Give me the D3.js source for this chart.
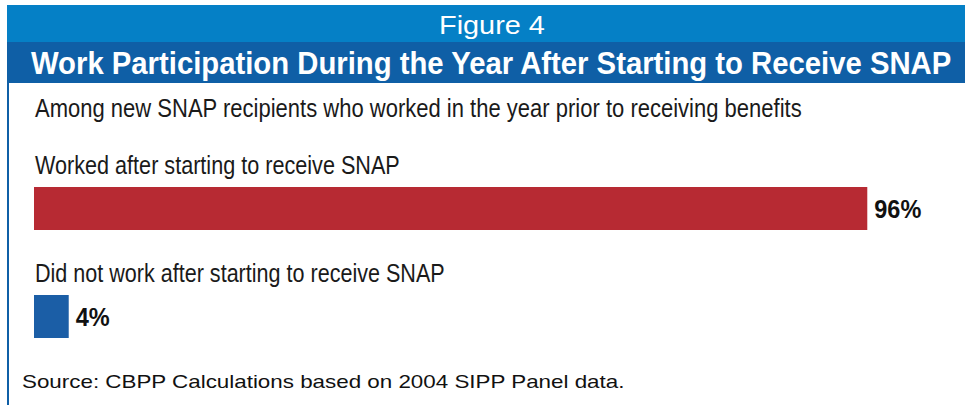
<!DOCTYPE html>
<html>
<head>
<meta charset="utf-8">
<script src="https://cdn.jsdelivr.net/npm/d3@7"></script>
<style>
  body { margin: 0; background: #fff; }
  svg { display: block; }
</style>
</head>
<body>
<svg width="965" height="405"></svg>
<script>
const figureLabel = 'Figure 4';
const title = 'Work Participation During the Year After Starting to Receive SNAP';
const subtitle = 'Among new SNAP recipients who worked in the year prior to receiving benefits';
const source = 'Source: CBPP Calculations based on 2004 SIPP Panel data.';

const categories = [
    'Worked after starting to receive SNAP',
    'Did not work after starting to receive SNAP'
];
const values = [96, 4];

const colors = ['#b72a33', '#1b5ea6'];

const svg = d3.select('svg');
svg.selectAll('*').remove();

const width = 965;
const height = 405;
const barHeight = 43;

// squeeze a text horizontally so it spans w pixels (the reference uses a condensed face)
function fitText(sel, x, y, w, anchor) {
    sel.each(function(d, i) {
        const node = d3.select(this);
        const tw = typeof w === 'function' ? w(d, i) : w;
        const tx = typeof x === 'function' ? x(d, i) : x;
        const ty = typeof y === 'function' ? y(d, i) : y;
        const natural = this.getComputedTextLength();
        const k = tw / natural;
        const left = anchor === 'middle' ? tx - tw / 2 : tx;
        node.attr('x', 0).attr('y', 0)
            .attr('text-anchor', 'start')
            .attr('transform', `translate(${left}, ${ty}) scale(${k}, 1)`);
    });
}

// header bands
svg.append('rect')
    .attr('x', 7).attr('y', 5)
    .attr('width', width - 7).attr('height', 37)
    .attr('fill', '#0580c6');

svg.append('rect')
    .attr('x', 7).attr('y', 42)
    .attr('width', width - 7).attr('height', 41)
    .attr('fill', '#0f5fa6');

// left frame line
svg.append('rect')
    .attr('x', 7).attr('y', 83)
    .attr('width', 2).attr('height', height - 83)
    .attr('fill', '#0f5fa6');

svg.append('text')
    .attr('font-family', 'Liberation Sans, Arial, sans-serif')
    .attr('font-size', 26)
    .attr('fill', '#fff')
    .text(figureLabel)
    .call(fitText, 492, 34, 106, 'middle');

svg.append('text')
    .attr('font-family', 'Liberation Sans, Arial, sans-serif')
    .attr('font-weight', 'bold')
    .attr('font-size', 32)
    .attr('fill', '#fff')
    .text(title)
    .call(fitText, 31, 74, 921);

svg.append('text')
    .attr('font-family', 'Liberation Sans, Arial, sans-serif')
    .attr('font-size', 25)
    .attr('fill', '#1a1a1a')
    .text(subtitle)
    .call(fitText, 35, 117, 767);

const xScale = d3.scaleLinear()
    .domain([0, 100])
    .range([34, 902]);

const yScale = d3.scalePoint()
    .domain(categories)
    .range([187, 295]);

const labelWidths = [365, 410];
const valueWidths = [47, 34];

const rows = svg.append('g')
    .selectAll('g')
    .data(categories)
    .join('g');

rows.append('text')
    .attr('font-family', 'Liberation Sans, Arial, sans-serif')
    .attr('font-size', 25)
    .attr('fill', '#1a1a1a')
    .text(d => d)
    .call(fitText, 35, d => yScale(d) - 13, (d, i) => labelWidths[i]);

rows.append('rect')
    .attr('x', xScale(0))
    .attr('y', d => yScale(d))
    .attr('width', (d, i) => xScale(values[i]) - xScale(0))
    .attr('height', barHeight)
    .attr('fill', (d, i) => colors[i]);

rows.append('text')
    .attr('font-family', 'Liberation Sans, Arial, sans-serif')
    .attr('font-weight', 'bold')
    .attr('font-size', 26)
    .attr('fill', '#111')
    .text((d, i) => d3.format('d')(values[i]) + '%')
    .call(fitText,
        (d, i) => xScale(values[i]) + 7,
        d => yScale(d) + barHeight / 2 + 9,
        (d, i) => valueWidths[i]);

svg.append('text')
    .attr('font-family', 'Liberation Sans, Arial, sans-serif')
    .attr('font-size', 18)
    .attr('fill', '#111')
    .text(source)
    .call(fitText, 22, 388, 603);
</script>
</body>
</html>
